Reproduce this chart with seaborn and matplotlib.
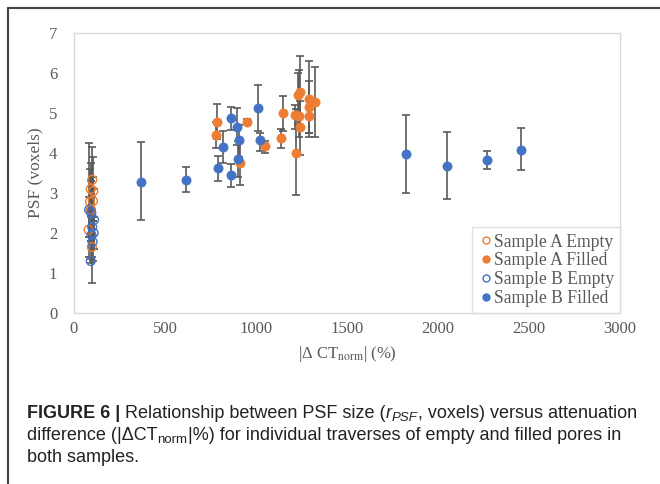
import numpy as np
import pandas as pd
import matplotlib
matplotlib.use("Agg")
import matplotlib.pyplot as plt
from matplotlib.lines import Line2D
from matplotlib.transforms import IdentityTransform
import seaborn as sns

# ---------------- data ----------------
a_empty_x = [100, 92, 104, 88, 93, 80, 98, 106]
a_empty_y = [3.33, 3.10, 2.80, 2.78, 2.58, 2.08, 1.65, 3.05]
a_empty_lo = [2.60, 2.40, 2.10, 1.90, 1.80, 1.40, 0.75, 2.30]
a_empty_hi = [4.15, 3.75, 3.40, 3.60, 3.30, 2.90, 2.40, 3.90]

b_empty_x = [83, 95, 110, 100, 96, 102, 92, 108]
b_empty_y = [2.58, 2.50, 2.33, 2.15, 1.95, 1.78, 1.30, 2.00]
b_empty_lo = [1.90, 1.80, 1.60, 1.40, 1.35, 1.30, 1.25, 1.60]
b_empty_hi = [4.25, 3.30, 3.10, 2.90, 2.60, 2.30, 1.40, 2.40]

a_filled_x = [784, 778, 952, 1048, 912, 1150, 1136, 1220, 1212, 1238, 1242, 1229, 1242, 1289, 1289, 1289, 1326]
a_filled_y = [4.78, 4.46, 4.78, 4.18, 3.76, 4.99, 4.38, 4.01, 4.95, 4.93, 4.64, 5.45, 5.52, 5.35, 5.16, 4.93, 5.27]
a_filled_lo = [4.35, 4.12, 4.72, 4.00, 3.19, 4.56, 4.12, 2.95, 4.60, 4.40, 3.96, 4.70, 4.60, 4.40, 4.50, 4.50, 4.39]
a_filled_hi = [5.22, 4.78, 4.84, 4.30, 4.30, 5.43, 4.60, 5.10, 5.20, 6.08, 5.30, 6.00, 6.43, 6.30, 5.80, 5.30, 6.16]

b_filled_x = [370, 615, 793, 820, 863, 863, 894, 899, 908, 1013, 1022, 1824, 2049, 2269, 2454]
b_filled_y = [3.28, 3.33, 3.62, 4.16, 4.87, 3.45, 4.64, 3.84, 4.33, 5.13, 4.33, 3.97, 3.68, 3.83, 4.08]
b_filled_lo = [2.32, 3.02, 3.31, 3.74, 4.58, 3.16, 4.20, 3.40, 3.90, 4.56, 4.05, 3.01, 2.84, 3.59, 3.58]
b_filled_hi = [4.27, 3.65, 3.93, 4.56, 5.16, 3.72, 5.13, 4.30, 4.70, 5.70, 4.50, 4.95, 4.53, 4.06, 4.62]

x_ticks = [0, 500, 1000, 1500, 2000, 2500, 3000]
y_ticks = [0, 1, 2, 3, 4, 5, 6, 7]

series = [
    ("Sample A Empty", a_empty_x, a_empty_y, a_empty_lo, a_empty_hi),
    ("Sample A Filled", a_filled_x, a_filled_y, a_filled_lo, a_filled_hi),
    ("Sample B Empty", b_empty_x, b_empty_y, b_empty_lo, b_empty_hi),
    ("Sample B Filled", b_filled_x, b_filled_y, b_filled_lo, b_filled_hi),
]
frames = []
for name, xs, ys, lo, hi in series:
    frames.append(pd.DataFrame({"series": name, "x": xs, "y": ys, "lo": lo, "hi": hi}))
df = pd.concat(frames, ignore_index=True)

# ---------------- style ----------------
sns.set_style("white")
plt.rcParams["font.family"] = ["Liberation Serif", "DejaVu Serif"]
plt.rcParams["mathtext.fontset"] = "stix"

ORANGE = "#ED7D31"
BLUE = "#4472C4"
GRAY_TXT = "#595959"
styles = {
    "Sample A Empty": dict(color=ORANGE, filled=False),
    "Sample A Filled": dict(color=ORANGE, filled=True),
    "Sample B Empty": dict(color=BLUE, filled=False),
    "Sample B Filled": dict(color=BLUE, filled=True),
}

fig = plt.figure(figsize=(6.6, 4.84), dpi=100)
ax = fig.add_axes([74 / 660, 1 - 313 / 484, 546 / 660, 280 / 484])

for name in styles:
    sub = df[df["series"] == name]
    ax.errorbar(sub["x"], sub["y"],
                yerr=[sub["y"] - sub["lo"], sub["hi"] - sub["y"]],
                fmt="none", ecolor="#5a5a5a", elinewidth=1.2,
                capsize=3, capthick=1.2, zorder=2)

for name, st in styles.items():
    sub = df[df["series"] == name]
    if st["filled"]:
        sns.scatterplot(data=sub, x="x", y="y", ax=ax, s=44, color=st["color"],
                        edgecolor=st["color"], linewidth=0.5, zorder=3, label=name)
    else:
        sns.scatterplot(data=sub, x="x", y="y", ax=ax, s=40, facecolor="none",
                        edgecolor=st["color"], linewidth=1.0, zorder=3, label=name)

ax.set_xlim(0, 3000)
ax.set_ylim(0, 7)
ax.set_xticks(x_ticks)
ax.set_yticks(y_ticks)
ax.set_xticklabels([str(t) for t in x_ticks])
ax.set_yticklabels([str(t) for t in y_ticks])
ax.tick_params(axis="both", length=0, labelsize=12, colors=GRAY_TXT, pad=6)
ax.tick_params(axis="y", pad=12)
for sp in ax.spines.values():
    sp.set_visible(True)
    sp.set_color("#d9d9d9")
    sp.set_linewidth(1.0)

ax.set_xlabel(r"|Δ CT$_{\mathrm{norm}}$| (%)", fontsize=12, color=GRAY_TXT, labelpad=5)
ax.set_ylabel("PSF (voxels)", fontsize=12.5, color=GRAY_TXT, labelpad=4)

# legend
handles = []
for name, st in styles.items():
    handles.append(Line2D([], [], linestyle="none", marker="o", markersize=5,
                          markerfacecolor=st["color"] if st["filled"] else "white",
                          markeredgecolor=st["color"], markeredgewidth=1.0, label=name))
leg = ax.legend(handles=handles, loc="lower right", fontsize=12.7, frameon=True,
                fancybox=False, handletextpad=0.05, handlelength=0.8,
                labelspacing=0.1, borderpad=0.35, borderaxespad=0.0)
leg.get_frame().set_edgecolor("#d9d9d9")
leg.get_frame().set_linewidth(1.0)
for t in leg.get_texts():
    t.set_color(GRAY_TXT)

# outer frame (top and left edges visible)
fig.add_artist(Line2D([8 / 660, 1.0], [1 - 8 / 484, 1 - 8 / 484],
                      transform=fig.transFigure, color="#444444", linewidth=1.5))
fig.add_artist(Line2D([8 / 660, 8 / 660], [0.0, 1 - 8 / 484],
                      transform=fig.transFigure, color="#444444", linewidth=1.5))

# caption drawn piecewise
fig.canvas.draw()
renderer = fig.canvas.get_renderer()
CAP = ["Liberation Sans", "DejaVu Sans"]
cap_size = 13
H = 484


def draw_line(x0, ytop, pieces):
    x = x0
    ybase = H - ytop
    for txt, kw in pieces:
        size = kw.get("size", cap_size)
        dy = kw.get("dy", 0)
        t = fig.text(x, ybase + dy, txt, transform=IdentityTransform(),
                     family=CAP, fontsize=size, color="#222222",
                     fontweight=kw.get("weight", "normal"),
                     fontstyle=kw.get("style", "normal"), va="baseline", ha="left")
        bb = t.get_window_extent(renderer)
        x += bb.width


draw_line(27, 418, [("FIGURE 6 |", {"weight": "bold"}),
                    (" Relationship between PSF size (", {}),
                    ("r", {"style": "italic"}),
                    ("PSF", {"style": "italic", "size": 9.5, "dy": -3}),
                    (", voxels) versus attenuation", {})])
draw_line(27, 440, [("difference (|ΔCT", {}),
                    ("norm", {"size": 9.5, "dy": -3}),
                    ("|%) for individual traverses of empty and filled pores in", {})])
draw_line(27, 462, [("both samples.", {})])

fig.savefig("out.png", dpi=100)
